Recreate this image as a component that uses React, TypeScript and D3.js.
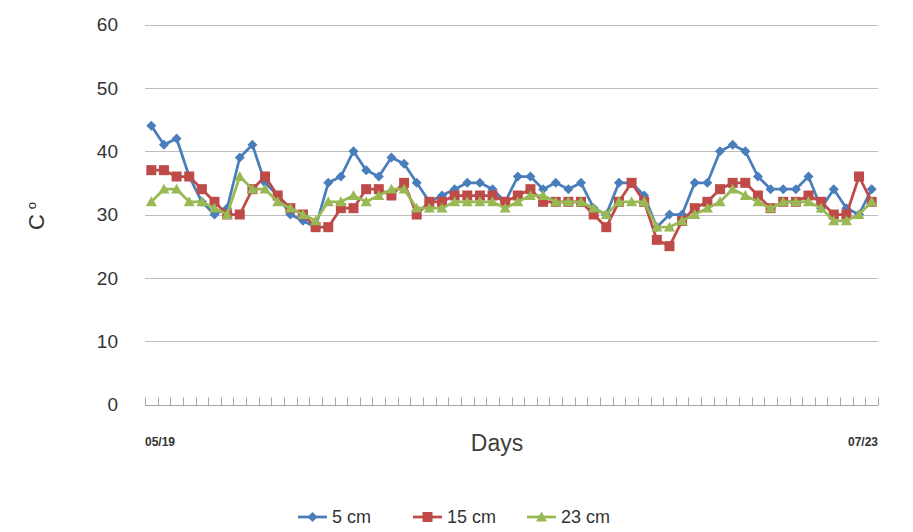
import React from "react";
import * as d3 from "d3";

// Soil temperature readings, one per sampling day
const depth5: number[] = [
  44, 41, 42, 36, 32, 30, 31, 39, 41, 35, 33, 30, 29, 28, 35, 36, 40, 37, 36, 39,
  38, 35, 32, 33, 34, 35, 35, 34, 32, 36, 36, 34, 35, 34, 35, 31, 30, 35, 35, 33,
  28, 30, 30, 35, 35, 40, 41, 40, 36, 34, 34, 34, 36, 31, 34, 31, 30, 34,
];
const depth15: number[] = [
  37, 37, 36, 36, 34, 32, 30, 30, 34, 36, 33, 31, 30, 28, 28, 31, 31, 34, 34, 33,
  35, 30, 32, 32, 33, 33, 33, 33, 32, 33, 34, 32, 32, 32, 32, 30, 28, 32, 35, 32,
  26, 25, 29, 31, 32, 34, 35, 35, 33, 31, 32, 32, 33, 32, 30, 30, 36, 32,
];
const depth23: number[] = [
  32, 34, 34, 32, 32, 31, 30, 36, 34, 34, 32, 31, 30, 29, 32, 32, 33, 32, 33, 34,
  34, 31, 31, 31, 32, 32, 32, 32, 31, 32, 33, 33, 32, 32, 32, 31, 30, 32, 32, 32,
  28, 28, 29, 30, 31, 32, 34, 33, 32, 31, 32, 32, 32, 31, 29, 29, 30, 32,
];
const seriesNames: string[] = ["5 cm", "15 cm", "23 cm"];
const seriesColors: string[] = ["#4A7EBB", "#BE4B48", "#98B954"];
const yTicks: number[] = [0, 10, 20, 30, 40, 50, 60];
const firstDate = "05/19";
const lastDate = "07/23";

const W = 913;
const H = 532;
const left = 145;
const right = 878;
const top = 24.5;
const bottom = 404.5;

const days = d3.range(depth5.length);
const x = d3.scalePoint<number>().domain(days).range([left, right]).padding(0.5);
const y = d3.scaleLinear().domain([0, 60]).range([bottom, top]);
const step = x.step();

const series = [depth5, depth15, depth23];
const lineGen = d3
  .line<number>()
  .x((_, i) => x(i) as number)
  .y((v) => y(v));

const font = "'Liberation Sans', Arial, sans-serif";

function Marker({ kind, cx, cy, color }: { kind: number; cx: number; cy: number; color: string }) {
  if (kind === 0) {
    const s = 5;
    return (
      <path
        d={`M${cx},${cy - s}L${cx + s},${cy}L${cx},${cy + s}L${cx - s},${cy}Z`}
        fill={color}
      />
    );
  }
  if (kind === 1) {
    return <rect x={cx - 5} y={cy - 5} width={10} height={10} fill={color} />;
  }
  const s = 5.5;
  return (
    <path
      d={`M${cx},${cy - s}L${cx + s},${cy + s * 0.8}L${cx - s},${cy + s * 0.8}Z`}
      fill={color}
    />
  );
}

export default function App() {
  const tickXs = d3.range(days.length + 1).map((k) => left + k * step);
  const legendItems = [
    { lx: 298, tx: 332 },
    { lx: 413, tx: 447 },
    { lx: 527, tx: 561 },
  ];
  return (
    <svg
      width={W}
      height={H}
      style={{ position: "absolute", left: 0, top: 0, background: "#fff" }}
    >
      {/* horizontal gridlines */}
      {yTicks
        .filter((t) => t > 0)
        .map((t) => (
          <line
            key={t}
            x1={left}
            x2={right}
            y1={Math.round(y(t)) + 0.5}
            y2={Math.round(y(t)) + 0.5}
            stroke="#BDBDBD"
            strokeWidth={1}
          />
        ))}
      {/* y tick labels */}
      {yTicks.map((t) => (
        <text
          key={t}
          x={118}
          y={y(t)}
          dy="0.36em"
          textAnchor="end"
          fontFamily={font}
          fontSize={19}
          fill="#333"
        >
          {t}
        </text>
      ))}
      {/* category axis */}
      <line x1={left} x2={right} y1={bottom + 1} y2={bottom + 1} stroke="#A6A6A6" strokeWidth={1} />
      {tickXs.map((tx, k) => (
        <line
          key={k}
          x1={Math.round(tx) + 0.5}
          x2={Math.round(tx) + 0.5}
          y1={bottom + 1}
          y2={bottom - 7}
          stroke="#A6A6A6"
          strokeWidth={1}
        />
      ))}
      <text x={left} y={446} fontFamily={font} fontSize={12} fontWeight="bold" fill="#333">
        {firstDate}
      </text>
      <text x={right} y={446} textAnchor="end" fontFamily={font} fontSize={12} fontWeight="bold" fill="#333">
        {lastDate}
      </text>
      <text x={497} y={451} textAnchor="middle" fontFamily={font} fontSize={23} fill="#404040">
        Days
      </text>
      {/* y axis title */}
      <text
        transform="translate(44,216) rotate(-90)"
        textAnchor="middle"
        fontFamily={font}
        fontSize={22}
        fill="#333"
      >
        C
        <tspan dx={5} dy={-8} fontSize={13}>
          o
        </tspan>
      </text>
      {/* series */}
      {series.map((vals, si) => (
        <g key={si}>
          <path d={lineGen(vals) || ""} fill="none" stroke={seriesColors[si]} strokeWidth={2.75} strokeLinejoin="round" />
          {vals.map((v, i) => (
            <Marker key={i} kind={si} cx={x(i) as number} cy={y(v)} color={seriesColors[si]} />
          ))}
        </g>
      ))}
      {/* legend */}
      {seriesNames.map((name, si) => {
        const it = legendItems[si];
        const cy = 517;
        return (
          <g key={name}>
            <line x1={it.lx} x2={it.lx + 29} y1={cy} y2={cy} stroke={seriesColors[si]} strokeWidth={2.75} />
            <Marker kind={si} cx={it.lx + 14.5} cy={cy} color={seriesColors[si]} />
            <text x={it.tx} y={cy} dy="0.36em" fontFamily={font} fontSize={18} fill="#333">
              {name}
            </text>
          </g>
        );
      })}
    </svg>
  );
}
